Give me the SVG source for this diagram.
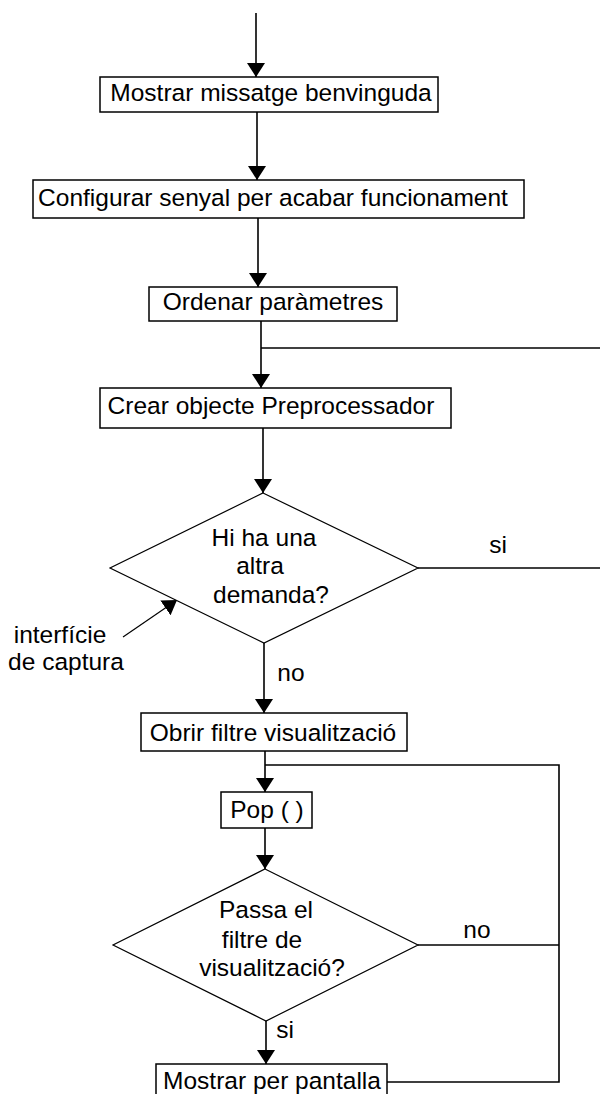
<svg xmlns="http://www.w3.org/2000/svg" width="600" height="1094" viewBox="0 0 600 1094">
  <defs>
    <marker id="arrow" viewBox="0 -9 14 18" markerWidth="14" markerHeight="18" refX="14" refY="0" orient="auto" markerUnits="userSpaceOnUse">
      <path d="M0,-9 L14,0 L0,9 z" fill="#000"/>
    </marker>
    <style>
      .box { fill: #fff; stroke: #000; stroke-width: 1.5; }
      .dec { fill: #fff; stroke: #000; stroke-width: 1.2; }
      .conn { fill: none; stroke: #000; stroke-width: 1.6; }
      .arr { marker-end: url(#arrow); }
      text { font-family: "Liberation Sans", Arial, sans-serif; font-size: 24.5px; fill: #000; text-anchor: middle; }
    </style>
  </defs>
  <rect width="600" height="1094" fill="#fff"/>

  <!-- connectors -->
  <g id="connectors">
    <line class="conn arr" x1="256" y1="13" x2="256" y2="77"/>
    <line class="conn arr" x1="257" y1="112" x2="257" y2="180"/>
    <line class="conn arr" x1="258" y1="218" x2="258" y2="287"/>
    <line class="conn arr" x1="261" y1="321" x2="261" y2="388"/>
    <line class="conn" x1="261" y1="348" x2="600" y2="348"/>
    <line class="conn arr" x1="263" y1="428" x2="263" y2="493"/>
    <line class="conn" x1="418" y1="568" x2="600" y2="568"/>
    <line class="conn arr" x1="264" y1="643" x2="264" y2="713"/>
    <line class="conn arr" x1="265" y1="751" x2="265" y2="792"/>
    <polyline class="conn" points="265,765 559,765 559,1082 387,1082"/>
    <line class="conn arr" x1="265" y1="828" x2="265" y2="869"/>
    <line class="conn" x1="418" y1="945" x2="559" y2="945"/>
    <line class="conn arr" x1="266" y1="1021" x2="266" y2="1064"/>
    <line class="conn arr" x1="123" y1="637" x2="177" y2="600" style="stroke-width:1.2"/>
    <text x="498" y="553">si</text>
    <text x="291" y="681">no</text>
    <text x="477" y="938">no</text>
    <text x="285" y="1038">si</text>
  </g>

  <g id="n-benvinguda">
    <rect class="box" x="100" y="77" width="338" height="35"/>
    <text x="271" y="101">Mostrar missatge benvinguda</text>
  </g>

  <g id="n-senyal">
    <rect class="box" x="33" y="180" width="491" height="38"/>
    <text x="273" y="206">Configurar senyal per acabar funcionament</text>
  </g>

  <g id="n-ordenar">
    <rect class="box" x="149" y="287" width="248" height="34"/>
    <text x="273" y="310">Ordenar paràmetres</text>
  </g>

  <g id="n-preprocessador">
    <rect class="box" x="100" y="388" width="351" height="40"/>
    <text x="271" y="414">Crear objecte Preprocessador</text>
  </g>

  <g id="n-demanda">
    <polygon class="dec" points="263,493 418,568 264,643 110,568"/>
    <text x="264" y="546">Hi ha una</text>
    <text x="260" y="574">altra</text>
    <text x="271" y="603">demanda?</text>
  </g>

  <g id="n-captura">
    <text x="60" y="643">interfície</text>
    <text x="66" y="670">de captura</text>
  </g>

  <g id="n-filtre">
    <rect class="box" x="141" y="713" width="266" height="38"/>
    <text x="273" y="741">Obrir filtre visualització</text>
  </g>

  <g id="n-pop">
    <rect class="box" x="221" y="792" width="91" height="36"/>
    <text x="267" y="818">Pop ( )</text>
  </g>

  <g id="n-passa">
    <polygon class="dec" points="265,869 418,945 266,1021 113,945"/>
    <text x="266" y="918">Passa el</text>
    <text x="262" y="948">filtre de</text>
    <text x="272" y="976">visualització?</text>
  </g>

  <g id="n-pantalla">
    <rect class="box" x="156" y="1064" width="231" height="40"/>
    <text x="272" y="1089">Mostrar per pantalla</text>
  </g>
</svg>
